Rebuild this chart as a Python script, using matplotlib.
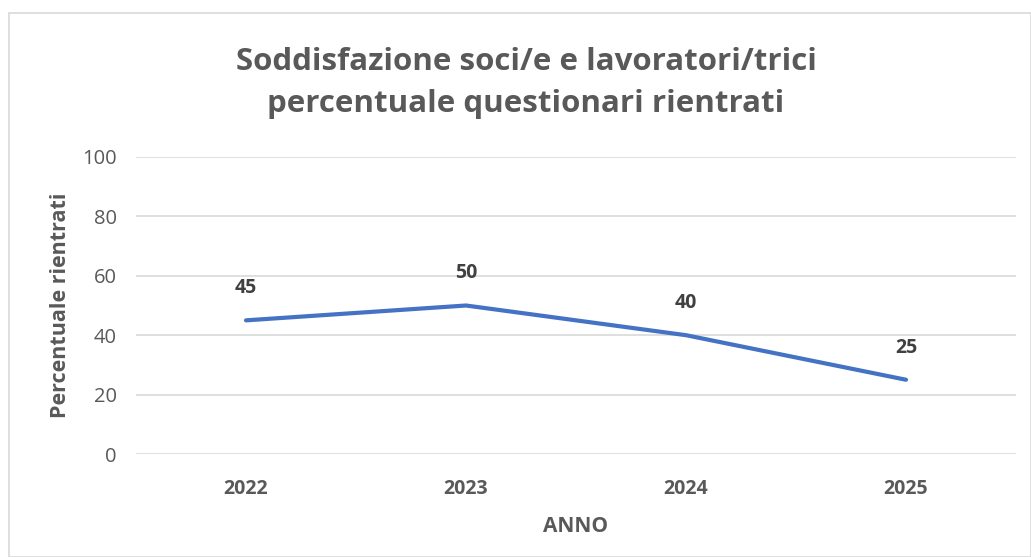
import matplotlib.pyplot as plt
import matplotlib.patches as mpatches

years = ['2022', '2023', '2024', '2025']
percentuale = [45, 50, 40, 25]
yticks = [0, 20, 40, 60, 80, 100]

plt.rcParams['font.family'] = ['Open Sans', 'DejaVu Sans']

W, H = 1031, 557
fig = plt.figure(figsize=(W / 100, H / 100), dpi=100)
ax = fig.add_axes([136 / W, (H - 454) / H, 880 / W, 297 / H])

# chart border
fig.patches.append(mpatches.Rectangle((9 / W, 0), 1 - 9 / W, 1 - 13 / H, transform=fig.transFigure,
                                      fill=False, edgecolor='#d9d9d9', linewidth=1.2))

x = list(range(len(years)))
ax.plot(x, percentuale, color='#4472C4', linewidth=3, solid_capstyle='round', zorder=3)
for xi, v in zip(x, percentuale):
    ax.annotate(str(v), (xi, v), xytext=(0, 16), textcoords='offset points', ha='center',
                va='bottom', fontsize=14, fontweight='bold', color='#404040')

ax.set_xlim(-0.5, len(years) - 0.5)
ax.set_ylim(0, 100)
ax.set_yticks(yticks)
ax.set_xticks(x)
ax.set_xticklabels(years, fontsize=14, fontweight='bold', color='#595959')
ax.tick_params(axis='y', labelsize=14.5, labelcolor='#595959', length=0, pad=14)
ax.tick_params(axis='x', length=0, pad=18)
ax.grid(axis='y', color='#d9d9d9', linewidth=1.2)
ax.set_axisbelow(True)
for s in ax.spines.values():
    s.set_visible(False)

ax.set_xlabel('ANNO', fontsize=15, fontweight='bold', color='#595959', labelpad=12)
ax.set_ylabel('Percentuale rientrati', fontsize=15.5, fontweight='bold', color='#595959', labelpad=8)
fig.text(526 / W, 1 - 83 / H, 'Soddisfazione soci/e e lavoratori/trici\npercentuale questionari rientrati',
         ha='center', va='center', fontsize=22.5, fontweight='bold', color='#595959', linespacing=1.5)

plt.savefig('out.png', dpi=100)
